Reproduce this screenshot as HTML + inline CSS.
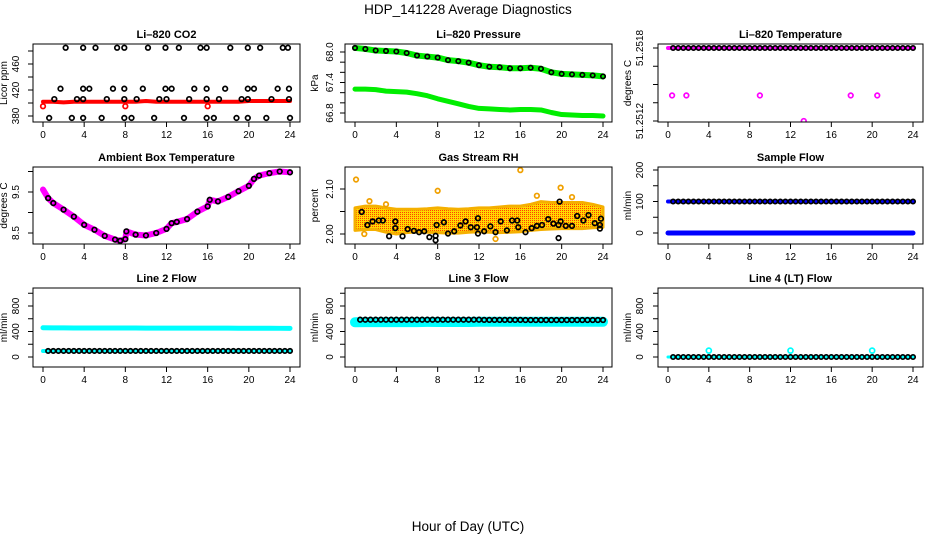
<!DOCTYPE html>
<html><head><meta charset="utf-8"><style>
body{margin:0;background:#fff;}
svg{display:block;font-family:"Liberation Sans",sans-serif;}
</style></head><body>
<svg id="c" width="936" height="540" viewBox="0 0 936 540">
<defs>
<pattern id="rhpat" width="2" height="2" patternUnits="userSpaceOnUse"><rect width="2" height="2" fill="#ffd800"/><rect width="1" height="1" fill="#ff4000"/></pattern>
</defs>
<text x="468" y="14" text-anchor="middle" font-size="13.5">HDP_141228  Average Diagnostics</text>
<text x="468" y="531" text-anchor="middle" font-size="13.5">Hour of Day (UTC)</text>
</svg>
<script>
const HOURS=[0,1,2,3,4,5,6,7,8,9,10,11,12,13,14,15,16,17,18,19,20,21,22,23,24];
const HALF=[0.5,1,1.5,2,2.5,3,3.5,4,4.5,5,5.5,6,6.5,7,7.5,8,8.5,9,9.5,10,10.5,11,11.5,12,12.5,13,13.5,14,14.5,15,15.5,16,16.5,17,17.5,18,18.5,19,19.5,20,20.5,21,21.5,22,22.5,23,23.5,24];
const XTICKS=[0,4,8,12,16,20,24];
// CO2
const co2Red=[402,402,401,402,402,402,402,402,402,402,403,402,402,402,402,402,402,402,402,402,403,403,403,403,403];
const co2RedOutX=[0,8,16];const co2RedOutY=[395,395,395];
const co2BlkX=[2.2,3.9,5.1,7.2,7.9,10.2,11.9,13.2,15.3,15.9,18.2,19.9,21.1,23.3,23.8,1.7,3.9,4.5,6.8,7.9,9.7,11.9,12.5,14.7,15.9,17.7,19.9,20.5,22.8,23.9,1.1,3.3,3.9,6.2,7.9,9.1,11.3,12.0,14.2,15.9,17.1,19.3,19.9,22.2,23.9,0.6,2.8,3.9,5.7,7.9,8.6,10.8,13.7,15.9,16.6,18.8,19.9,21.7,24];
const co2BlkY=[485,485,485,485,485,485,485,485,485,485,485,485,485,485,485,422,422,422,422,422,422,422,422,422,422,422,422,422,422,422,406,406,406,406,406,406,406,406,406,406,406,406,406,406,406,377,377,377,377,377,377,377,377,377,377,377,377,377,377];
// Pressure
const presTop=[68.08,68.06,68.03,68.02,68.01,67.98,67.93,67.91,67.89,67.84,67.82,67.79,67.74,67.71,67.70,67.68,67.68,67.69,67.67,67.60,67.57,67.56,67.55,67.54,67.52];
const presBot=[67.27,67.27,67.26,67.23,67.22,67.21,67.18,67.14,67.08,67.03,66.98,66.93,66.89,66.88,66.87,66.86,66.87,66.87,66.86,66.81,66.77,66.76,66.75,66.75,66.74];
// Temperature
const tempMain=[51.2518,51.2518,51.2518,51.2518,51.2518,51.2518,51.2518,51.2518,51.2518,51.2518,51.2518,51.2518,51.2518,51.2518,51.2518,51.2518,51.2518,51.2518,51.2518,51.2518,51.2518,51.2518,51.2518,51.2518,51.2518];
const tempBlk=[51.2518,51.2518,51.2518,51.2518,51.2518,51.2518,51.2518,51.2518,51.2518,51.2518,51.2518,51.2518,51.2518,51.2518,51.2518,51.2518,51.2518,51.2518,51.2518,51.2518,51.2518,51.2518,51.2518,51.2518,51.2518,51.2518,51.2518,51.2518,51.2518,51.2518,51.2518,51.2518,51.2518,51.2518,51.2518,51.2518,51.2518,51.2518,51.2518,51.2518,51.2518,51.2518,51.2518,51.2518,51.2518,51.2518,51.2518,51.2518];
const tempOutX=[0.4,1.8,9,17.9,20.5,13.3];const tempOutY=[51.25141,51.25141,51.25141,51.25141,51.25141,51.2512];
// Ambient
const ambX=[0,0.5,1,2,3,4,5,6,7,7.5,8,8.1,9,10,11,12,12.5,13,14,15,16,16.2,17,18,19,20,20.5,21,22,23,24];
const ambY=[9.56,9.35,9.23,9.07,8.9,8.7,8.58,8.43,8.34,8.31,8.35,8.54,8.46,8.44,8.5,8.6,8.74,8.77,8.84,9.02,9.15,9.31,9.27,9.38,9.52,9.65,9.82,9.9,9.96,10.0,9.98];
// RH
const rhUpper=[2.058,2.062,2.062,2.058,2.055,2.055,2.055,2.056,2.058,2.056,2.055,2.056,2.058,2.058,2.06,2.062,2.062,2.066,2.072,2.07,2.07,2.07,2.07,2.066,2.06];
const rhLower=[2.008,2.01,2.01,2.004,2.0,2.003,2.005,2.004,2.003,2.002,2.002,2.004,2.005,2.004,2.003,2.004,2.005,2.008,2.01,2.011,2.012,2.012,2.012,2.014,2.015];
const rhOutX=[0.1,16.0,8.0,19.9,13.6,1.4,17.6,21.0,3.0,0.9];const rhOutY=[2.121,2.142,2.096,2.103,1.989,2.073,2.085,2.082,2.066,2.0];
const rhBlkX=[0.65,1.2,1.7,2.3,2.7,3.3,3.9,3.9,4.6,5.1,5.7,6.2,6.7,7.2,7.8,7.8,7.9,8.6,9.0,9.6,10.2,10.7,11.2,11.8,11.9,11.9,12.5,13.1,13.6,14.1,14.7,15.2,15.7,15.8,16.5,17.1,17.6,18.1,18.7,19.2,19.7,19.8,19.7,19.9,20.4,21.0,21.5,22.1,22.6,23.2,23.7,23.8,23.7];
const rhBlkY=[2.049,2.02,2.028,2.03,2.03,1.995,2.028,2.013,1.995,2.011,2.007,2.004,2.006,1.993,1.996,1.986,2.02,2.026,2.001,2.006,2.019,2.028,2.015,2.015,2.035,2.001,2.006,2.017,2.004,2.028,2.008,2.03,2.03,2.015,2.004,2.013,2.018,2.02,2.033,2.023,2.02,2.072,1.991,2.028,2.018,2.018,2.04,2.03,2.042,2.024,2.02,2.034,2.012];
// Flows
const sampleHigh=[100,100,100,100,100,100,100,100,100,100,100,100,100,100,100,100,100,100,100,100,100,100,100,100,100];
const sampleBlk=[100,100,100,100,100,100,100,100,100,100,100,100,100,100,100,100,100,100,100,100,100,100,100,100,100,100,100,100,100,100,100,100,100,100,100,100,100,100,100,100,100,100,100,100,100,100,100,100];
const sampleLow=[0,0,0,0,0,0,0,0,0,0,0,0,0,0,0,0,0,0,0,0,0,0,0,0,0];
const line2High=[458,456,456,455,455,455,455,454,454,454,453,453,452,452,452,452,452,452,452,451,451,451,451,450,450];
const line2Low=[95,95,95,95,95,95,95,95,95,95,95,95,95,95,95,95,95,95,95,95,95,95,95,95,95];
const line2Blk=[95,95,95,95,95,95,95,95,95,95,95,95,95,95,95,95,95,95,95,95,95,95,95,95,95,95,95,95,95,95,95,95,95,95,95,95,95,95,95,95,95,95,95,95,95,95,95,95];
const line3Band=[545,548,548,548,548,548,548,550,550,550,550,550,552,552,552,552,552,552,552,552,552,552,552,552,552];
const line3Blk=[585,585,585,585,585,585,585,585,585,585,585,585,585,585,585,585,585,585,585,585,585,585,585,585,582,582,582,582,582,582,582,582,580,580,580,580,580,580,580,580,580,580,580,580,580,580,580,580];
const line4=[0,0,0,0,0,0,0,0,0,0,0,0,0,0,0,0,0,0,0,0,0,0,0,0,0];
const line4Blk=[0,0,0,0,0,0,0,0,0,0,0,0,0,0,0,0,0,0,0,0,0,0,0,0,0,0,0,0,0,0,0,0,0,0,0,0,0,0,0,0,0,0,0,0,0,0,0,0];
const line4OutX=[4,12,20];const line4OutY=[100,100,100];

const NS='http://www.w3.org/2000/svg';
const svg=document.getElementById('c');
function mk(tag,attrs,parent){const e=document.createElementNS(NS,tag);for(const k in attrs)e.setAttribute(k,attrs[k]);(parent||svg).appendChild(e);return e;}
const COLS=[{x0:43,x24:290,L:33,R:300,lab:19,tit:7},{x0:355,x24:603,L:345,R:612,lab:333,tit:318},{x0:668,x24:913,L:658,R:923,lab:643,tit:631}];
const ROWS=[{T:44,B:122,tt:38},{T:167,B:244,tt:161},{T:288,B:367,tt:282}];
function panel(name,col,row,title,ytitle,v1,p1,v2,p2,yticks,ylabels){
  const c=COLS[col],r=ROWS[row];
  const g=mk('g',{});
  
  
  const P={g,xs:h=>c.x0+(c.x24-c.x0)*h/24,ys:v=>p1+(p2-p1)*(v-v1)/(v2-v1)};
  const cp=mk('clipPath',{id:'cp'+name},g);mk('rect',{x:c.L,y:r.T,width:c.R-c.L,height:r.B-r.T},cp);
  P.d=mk('g',{'clip-path':'url(#cp'+name+')'},g);
  
  
  const box=mk('rect',{x:c.L,y:r.T,width:c.R-c.L,height:r.B-r.T,fill:'none',stroke:'#000','stroke-width':1},g);
  
  
  const t=mk('text',{x:(c.L+c.R)/2,y:r.tt,'text-anchor':'middle','font-size':11,'font-weight':'bold'},g);t.textContent=title;
  
  
  const xa=mk('g',{},g);
  
  
  XTICKS.forEach(h=>{const x=P.xs(h);mk('line',{x1:x,x2:x,y1:r.B,y2:r.B+5,stroke:'#000'},xa);
    const tx=mk('text',{x:x,y:r.B+16,'text-anchor':'middle','font-size':10},xa);tx.textContent=h;});
  mk('line',{x1:P.xs(0),x2:P.xs(24),y1:r.B,y2:r.B,stroke:'#000'},xa);
  const ya=mk('g',{},g);
  
  
  yticks.forEach(v=>{const y=P.ys(v);mk('line',{x1:c.L-5,x2:c.L,y1:y,y2:y,stroke:'#000'},ya);});
  mk('line',{x1:c.L,x2:c.L,y1:P.ys(yticks[0]),y2:P.ys(yticks[yticks.length-1]),stroke:'#000'},ya);
  ylabels.forEach(v=>{const y=P.ys(v);const tx=mk('text',{x:c.lab,y:y,'text-anchor':'middle','font-size':10,transform:'rotate(-90 '+c.lab+' '+y+')'},ya);tx.textContent=String(v);});
  const yt=mk('text',{x:c.tit,y:(r.T+r.B)/2,'text-anchor':'middle','font-size':10,transform:'rotate(-90 '+c.tit+' '+(r.T+r.B)/2+')'},g);yt.textContent=ytitle;
  
  
  return P;
}
function circles(P,xs,ys,color,rad,sw,nm){const g=mk('g',{},P.d);
  
  
  xs.forEach((h,i)=>mk('circle',{cx:P.xs(h),cy:P.ys(ys[i]),r:rad,fill:'none',stroke:color,'stroke-width':sw},g));}
function band(P,xs,ys,color,w,nm){const pl=mk('polyline',{points:xs.map((h,i)=>P.xs(h)+','+P.ys(ys[i])).join(' '),fill:'none',stroke:color,'stroke-width':w,'stroke-linejoin':'round','stroke-linecap':'round'},P.d);
  
  }

const SW=1.7;
let P;
P=panel('co2',0,0,'Li–820 CO2','Licor ppm',380,116,460,64,[380,400,420,440,460,480],[380,420,460]);
band(P,HOURS,co2Red,'#ff0000',4,'co2-red-series');
circles(P,co2RedOutX,co2RedOutY,'#ff0000',2.3,SW,'co2-red-outliers');
circles(P,co2BlkX,co2BlkY,'#000',2.3,SW,'co2-black-points');

P=panel('pressure',1,0,'Li–820 Pressure','kPa',68.0,52,66.8,113,[66.8,67.0,67.2,67.4,67.6,67.8,68.0],['66.8','67.4','68.0']);
band(P,HOURS,presBot,'#00ee00',5,'pressure-lower-series');
band(P,HOURS,presTop,'#00ee00',6,'pressure-upper-green');
circles(P,HOURS,presTop,'#000',2.2,SW,'pressure-upper-black');

P=panel('temperature',2,0,'Li–820 Temperature','degrees C',51.2518,48,51.2512,121,[51.2512,51.25135,51.2515,51.25165,51.2518],['51.2512','51.2518']);
band(P,HOURS,tempMain,'#ff00ff',4,'temperature-magenta-series');
circles(P,HALF,tempBlk,'#000',2.2,SW,'temperature-black-series');
circles(P,tempOutX,tempOutY,'#ff00ff',2.3,SW,'temperature-outliers');

P=panel('ambient',0,1,'Ambient Box Temperature','degrees C',9.5,192,8.5,233,[8.5,9.0,9.5,10.0],['8.5','9.5']);
band(P,ambX,ambY,'#ff00ff',6,'ambient-magenta-series');
circles(P,ambX.slice(1),ambY.slice(1),'#000',2.3,SW,'ambient-black-points');

P=panel('rh',1,1,'Gas Stream RH','percent',2.10,189,2.00,234,[2.00,2.05,2.10],['2.00','2.10']);
const poly=mk('polygon',{points:HOURS.map((h,i)=>P.xs(h)+','+P.ys(rhUpper[i])).concat(HOURS.slice().reverse().map((h,j)=>P.xs(h)+','+P.ys(rhLower[24-j]))).join(' '),fill:'url(#rhpat)',stroke:'#f5b000','stroke-width':3,'stroke-linejoin':'round'},P.d);


circles(P,rhOutX,rhOutY,'#f0a000',2.3,SW,'rh-orange-outliers');
circles(P,rhBlkX,rhBlkY,'#000',2.3,SW,'rh-black-points');

P=panel('sample-flow',2,1,'Sample Flow','ml/min',0,233,200,170,[0,50,100,150,200],['0','100','200']);
band(P,HOURS,sampleLow,'#0000ff',5,'sample-flow-low-series');
band(P,HOURS,sampleHigh,'#0000ff',4,'sample-flow-high-blue');
circles(P,HALF,sampleBlk,'#000',2.2,SW,'sample-flow-high-black');

P=panel('line2',0,2,'Line 2 Flow','ml/min',0,357,800,306,[0,200,400,600,800,1000],['0','400','800']);
band(P,HOURS,line2High,'#00ffff',5,'line2-high-series');
band(P,HOURS,line2Low,'#00ffff',4,'line2-low-cyan');
circles(P,HALF,line2Blk,'#000',2.2,SW,'line2-low-black');

P=panel('line3',1,2,'Line 3 Flow','ml/min',0,357,800,306,[0,200,400,600,800,1000],['0','400','800']);
band(P,HOURS,line3Band,'#00ffff',10,'line3-cyan-band');
circles(P,HALF,line3Blk,'#000',2.3,SW,'line3-black-points');

P=panel('line4',2,2,'Line 4 (LT) Flow','ml/min',0,357,800,306,[0,200,400,600,800,1000],['0','400','800']);
band(P,HOURS,line4,'#00ffff',3,'line4-cyan-series');
circles(P,HALF,line4Blk,'#000',2.2,SW,'line4-black-points');
circles(P,line4OutX,line4OutY,'#00ffff',2.5,SW,'line4-outliers');
</script>
</body></html>
